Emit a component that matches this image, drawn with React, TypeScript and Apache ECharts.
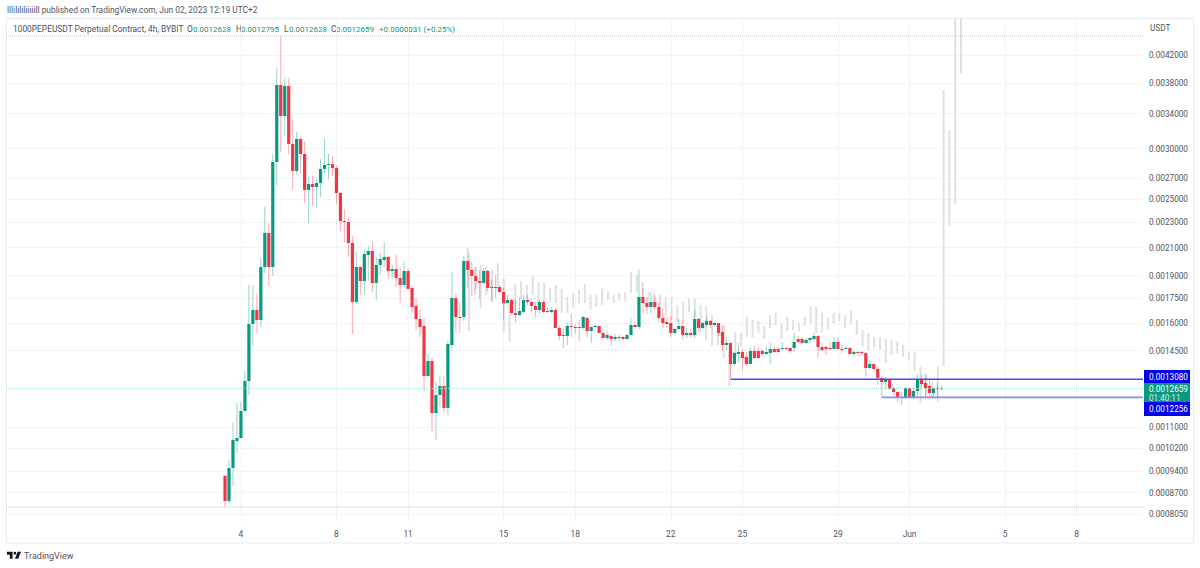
// App.tsx
import React, { useEffect, useRef } from "react";
import * as echarts from "echarts";

// 4h candles, one row of ten per line
const opens = [
  0.0009239, 0.0008444, 0.0009508, 0.0010477, 0.0010590, 0.0011671, 0.0013000, 0.0015958, 0.0016783, 0.0016190,
  0.0019590, 0.0022140, 0.0019590, 0.0028582, 0.0037704, 0.0033727, 0.0037568, 0.0030497, 0.0027672, 0.0031048,
  0.0029416, 0.0025843, 0.0026408, 0.0026126, 0.0026503, 0.0027871, 0.0028275, 0.0028377, 0.0027971, 0.0025566,
  0.0023117, 0.0023034, 0.0021358, 0.0017274, 0.0019590, 0.0018628, 0.0020456, 0.0020751, 0.0018494, 0.0019732,
  0.0020090, 0.0020310, 0.0019310, 0.0019450, 0.0018830, 0.0018362, 0.0019310, 0.0018165, 0.0017027, 0.0016248,
  0.0015844, 0.0013236, 0.0013970, 0.0011587, 0.0012361, 0.0012769, 0.0011798, 0.0014797, 0.0017524, 0.0016366,
  0.0016366, 0.0020018, 0.0019380, 0.0018966, 0.0018628, 0.0018494, 0.0019310, 0.0018230, 0.0018165, 0.0018230,
  0.0017905, 0.0017212, 0.0017398, 0.0016603, 0.0016484, 0.0016663, 0.0017398, 0.0017274, 0.0017027, 0.0016783,
  0.0017274, 0.0016663, 0.0016663, 0.0016783, 0.0015730, 0.0015340, 0.0015285, 0.0015844, 0.0015760, 0.0015787,
  0.0015730, 0.0016307, 0.0015562, 0.0015787, 0.0015844, 0.0015450, 0.0015175, 0.0015285, 0.0015120, 0.0015175,
  0.0015230, 0.0015120, 0.0015340, 0.0015901, 0.0015787, 0.0017587, 0.0017212, 0.0016966, 0.0017274, 0.0016966,
  0.0016307, 0.0016074, 0.0016016, 0.0015450, 0.0015674, 0.0015844, 0.0015340, 0.0015450, 0.0015340, 0.0016248,
  0.0015730, 0.0015901, 0.0016132, 0.0015901, 0.0016016, 0.0015506, 0.0014797, 0.0014904, 0.0013820, 0.0014326,
  0.0014430, 0.0014173, 0.0013820, 0.0014482, 0.0014482, 0.0014482, 0.0014326, 0.0014378, 0.0014586, 0.0014586,
  0.0014586, 0.0014638, 0.0014638, 0.0014638, 0.0015120, 0.0015120, 0.0014904, 0.0015066, 0.0015120, 0.0015285,
  0.0014691, 0.0014691, 0.0014638, 0.0014586, 0.0014958, 0.0014586, 0.0014586, 0.0014638, 0.0014326, 0.0014430,
  0.0014430, 0.0014378, 0.0013623, 0.0013820, 0.0013574, 0.0013141, 0.0012953, 0.0013094, 0.0012677, 0.0012496,
  0.0012273, 0.0012229, 0.0012677, 0.0012273, 0.0012541, 0.0013047, 0.0012907, 0.0012769, 0.0012451, 0.0012677,
  0.0012628,
];
const closes = [
  0.0008444, 0.0009508, 0.0010515, 0.0010590, 0.0011671, 0.0013000, 0.0015958, 0.0016783, 0.0016190, 0.0019590,
  0.0022140, 0.0019590, 0.0028582, 0.0037704, 0.0033727, 0.0037568, 0.0030497, 0.0027672, 0.0031048, 0.0029416,
  0.0025843, 0.0026408, 0.0026126, 0.0026503, 0.0027871, 0.0028275, 0.0028377, 0.0027971, 0.0025566, 0.0023117,
  0.0023034, 0.0021358, 0.0017274, 0.0019590, 0.0018628, 0.0020529, 0.0020751, 0.0018494, 0.0019732, 0.0020164,
  0.0020310, 0.0019310, 0.0019450, 0.0018830, 0.0018362, 0.0019310, 0.0018100, 0.0016966, 0.0016248, 0.0015787,
  0.0013236, 0.0013970, 0.0011587, 0.0012361, 0.0012769, 0.0011798, 0.0014850, 0.0017524, 0.0016366, 0.0016307,
  0.0020018, 0.0019380, 0.0018966, 0.0018628, 0.0018494, 0.0019310, 0.0018165, 0.0018165, 0.0018230, 0.0017905,
  0.0017212, 0.0017398, 0.0016603, 0.0016484, 0.0016723, 0.0017398, 0.0017274, 0.0017027, 0.0016783, 0.0017274,
  0.0016663, 0.0016723, 0.0016783, 0.0015730, 0.0015285, 0.0015285, 0.0015844, 0.0015787, 0.0015787, 0.0015730,
  0.0016366, 0.0015562, 0.0015787, 0.0015844, 0.0015450, 0.0015175, 0.0015340, 0.0015120, 0.0015230, 0.0015230,
  0.0015120, 0.0015340, 0.0015901, 0.0015787, 0.0017587, 0.0017212, 0.0016966, 0.0017274, 0.0016966, 0.0016307,
  0.0016016, 0.0015958, 0.0015450, 0.0015674, 0.0015844, 0.0015340, 0.0015450, 0.0015340, 0.0016248, 0.0015730,
  0.0016016, 0.0016132, 0.0015901, 0.0016016, 0.0015450, 0.0014797, 0.0014904, 0.0013820, 0.0014378, 0.0014430,
  0.0014122, 0.0013820, 0.0014482, 0.0014122, 0.0014122, 0.0014326, 0.0014430, 0.0014586, 0.0014430, 0.0014430,
  0.0014638, 0.0014586, 0.0014482, 0.0014958, 0.0014958, 0.0014904, 0.0015066, 0.0015175, 0.0015285, 0.0014691,
  0.0014534, 0.0014586, 0.0014586, 0.0014958, 0.0014586, 0.0014560, 0.0014638, 0.0014326, 0.0014430, 0.0014378,
  0.0014378, 0.0013623, 0.0013820, 0.0013574, 0.0013141, 0.0012953, 0.0013094, 0.0012632, 0.0012496, 0.0012273,
  0.0012229, 0.0012677, 0.0012273, 0.0012541, 0.0013094, 0.0012861, 0.0012677, 0.0012451, 0.0012677, 0.0012632,
  0.0012659,
];
const highs = [
  0.0009272, 0.0009785, 0.0011178, 0.0012012, 0.0012055, 0.0013476, 0.0018362, 0.0018362, 0.0017777, 0.0020310,
  0.0024312, 0.0022951, 0.0029416, 0.0040080, 0.0044971, 0.0038665, 0.0038665, 0.0033243, 0.0031840, 0.0031272,
  0.0030826, 0.0027083, 0.0027180, 0.0026887, 0.0028892, 0.0031160, 0.0029416, 0.0029205, 0.0028174, 0.0025658,
  0.0024138, 0.0023366, 0.0021903, 0.0020677, 0.0019661, 0.0020826, 0.0021130, 0.0021512, 0.0020310, 0.0020603,
  0.0021435, 0.0020383, 0.0019732, 0.0020456, 0.0019520, 0.0019946, 0.0019520, 0.0018296, 0.0017524, 0.0016783,
  0.0016307, 0.0014326, 0.0014122, 0.0012953, 0.0013284, 0.0013236, 0.0015012, 0.0019241, 0.0017777, 0.0017274,
  0.0020383, 0.0020977, 0.0019946, 0.0019590, 0.0019380, 0.0019520, 0.0019380, 0.0018695, 0.0019034, 0.0018362,
  0.0018165, 0.0017713, 0.0017524, 0.0017398, 0.0017524, 0.0017713, 0.0017713, 0.0017398, 0.0017274, 0.0017398,
  0.0017398, 0.0016966, 0.0016966, 0.0016905, 0.0015844, 0.0015787, 0.0016016, 0.0016543, 0.0015958, 0.0016190,
  0.0016425, 0.0016366, 0.0015844, 0.0015958, 0.0015844, 0.0015506, 0.0015562, 0.0015395, 0.0015395, 0.0015340,
  0.0015285, 0.0015395, 0.0016307, 0.0016074, 0.0019450, 0.0018165, 0.0017587, 0.0017905, 0.0017650, 0.0017274,
  0.0016905, 0.0016366, 0.0016425, 0.0015730, 0.0016248, 0.0016190, 0.0015730, 0.0015674, 0.0016783, 0.0016307,
  0.0016074, 0.0016366, 0.0016190, 0.0016074, 0.0016016, 0.0015901, 0.0015230, 0.0014958, 0.0014430, 0.0014904,
  0.0014586, 0.0014430, 0.0014691, 0.0014744, 0.0014691, 0.0014586, 0.0014744, 0.0014904, 0.0014691, 0.0014691,
  0.0014958, 0.0014691, 0.0014691, 0.0015450, 0.0015285, 0.0015230, 0.0015175, 0.0015230, 0.0015506, 0.0015340,
  0.0014904, 0.0014744, 0.0014958, 0.0015230, 0.0015230, 0.0014797, 0.0014744, 0.0014691, 0.0014534, 0.0014482,
  0.0014482, 0.0014430, 0.0014020, 0.0013820, 0.0013672, 0.0013236, 0.0013188, 0.0013141, 0.0012723, 0.0012541,
  0.0012496, 0.0012723, 0.0012677, 0.0012677, 0.0013332, 0.0013284, 0.0013284, 0.0013047, 0.0012677, 0.0012907,
  0.0012795,
];
const lows = [
  0.0008264, 0.0008354, 0.0008912, 0.0010035, 0.0011299, 0.0012361, 0.0012361, 0.0014744, 0.0015450, 0.0015787,
  0.0019172, 0.0018296, 0.0018966, 0.0026220, 0.0029630, 0.0031385, 0.0029416, 0.0025936, 0.0027376, 0.0027474,
  0.0024665, 0.0022951, 0.0024400, 0.0024225, 0.0025200, 0.0027474, 0.0026887, 0.0027180, 0.0024577, 0.0022300,
  0.0021435, 0.0020310, 0.0015395, 0.0017150, 0.0017713, 0.0017713, 0.0018628, 0.0017905, 0.0017398, 0.0019034,
  0.0019590, 0.0018762, 0.0018830, 0.0018230, 0.0017212, 0.0018230, 0.0018100, 0.0016603, 0.0015618, 0.0015230,
  0.0012541, 0.0013188, 0.0010861, 0.0010515, 0.0011840, 0.0011587, 0.0011503, 0.0014534, 0.0015450, 0.0015450,
  0.0016132, 0.0018165, 0.0017650, 0.0018035, 0.0017461, 0.0018428, 0.0017970, 0.0017336, 0.0017524, 0.0017841,
  0.0016190, 0.0017212, 0.0016484, 0.0016074, 0.0016425, 0.0016603, 0.0017088, 0.0016663, 0.0016366, 0.0016543,
  0.0016603, 0.0016603, 0.0016603, 0.0015730, 0.0015066, 0.0014638, 0.0014797, 0.0015230, 0.0015395, 0.0015012,
  0.0015674, 0.0015230, 0.0014904, 0.0015730, 0.0015450, 0.0015120, 0.0015066, 0.0014744, 0.0015012, 0.0015012,
  0.0015066, 0.0015066, 0.0015285, 0.0015674, 0.0015674, 0.0016603, 0.0016543, 0.0016603, 0.0016783, 0.0016074,
  0.0015730, 0.0015730, 0.0015230, 0.0015395, 0.0015618, 0.0015120, 0.0015175, 0.0015175, 0.0015175, 0.0015562,
  0.0015674, 0.0015787, 0.0015730, 0.0015787, 0.0015285, 0.0014482, 0.0014534, 0.0013141, 0.0013770, 0.0013920,
  0.0013525, 0.0013721, 0.0013820, 0.0014071, 0.0014071, 0.0014224, 0.0014275, 0.0013820, 0.0014378, 0.0014378,
  0.0014482, 0.0014534, 0.0014378, 0.0014430, 0.0014904, 0.0014850, 0.0014850, 0.0014904, 0.0015012, 0.0014122,
  0.0014482, 0.0014275, 0.0014534, 0.0014586, 0.0014534, 0.0014378, 0.0014586, 0.0014275, 0.0014224, 0.0014224,
  0.0014275, 0.0013188, 0.0013574, 0.0013525, 0.0012815, 0.0012273, 0.0012632, 0.0012586, 0.0012361, 0.0012055,
  0.0011926, 0.0012185, 0.0012229, 0.0012185, 0.0012273, 0.0012677, 0.0012273, 0.0012229, 0.0012273, 0.0012273,
  0.0012628,
];

// the grey projected bars
const ghostHighs = [
  0.0020603, 0.0019590, 0.0019732, 0.0019590, 0.0019380, 0.0019874, 0.0018830, 0.0017212, 0.0018428, 0.0018628,
  0.0018362, 0.0018966, 0.0018561, 0.0018494, 0.0018165, 0.0018362, 0.0018100, 0.0017587, 0.0017841, 0.0018035,
  0.0018428, 0.0017713, 0.0017713, 0.0018165, 0.0017905, 0.0017713, 0.0017841, 0.0017905, 0.0019241, 0.0019034,
  0.0018561, 0.0017905, 0.0017841, 0.0017713, 0.0017587, 0.0017587, 0.0017088, 0.0017274, 0.0017461, 0.0017524,
  0.0017088, 0.0017027, 0.0016484, 0.0016016, 0.0015901, 0.0014430, 0.0015506, 0.0015450, 0.0016366, 0.0016190,
  0.0016132, 0.0015844, 0.0016484, 0.0016603, 0.0016016, 0.0016366, 0.0016190, 0.0016016, 0.0016366, 0.0017027,
  0.0016966, 0.0016603, 0.0016307, 0.0016603, 0.0016603, 0.0016484, 0.0016783, 0.0016190, 0.0015618, 0.0015450,
  0.0015230, 0.0015230, 0.0015120, 0.0015066, 0.0015012, 0.0014797, 0.0014430, 0.0014430, 0.0013672, 0.0013332,
  0.0012953, 0.0013721, 0.0037032, 0.0032069, 0.0050000, 0.0050000,
];
const ghostLows = [
  0.0015562, 0.0017713, 0.0016905, 0.0017713, 0.0017274, 0.0017970, 0.0015506, 0.0014958, 0.0016783, 0.0017398,
  0.0017212, 0.0017713, 0.0017274, 0.0017212, 0.0017212, 0.0017212, 0.0016603, 0.0016603, 0.0016905, 0.0017212,
  0.0017212, 0.0016783, 0.0016966, 0.0017088, 0.0017398, 0.0017212, 0.0017398, 0.0017274, 0.0017841, 0.0017905,
  0.0017587, 0.0017212, 0.0016905, 0.0016484, 0.0016484, 0.0016190, 0.0016074, 0.0016190, 0.0016663, 0.0016307,
  0.0015506, 0.0015066, 0.0014744, 0.0014797, 0.0014122, 0.0012769, 0.0014378, 0.0014691, 0.0015230, 0.0015230,
  0.0015450, 0.0015120, 0.0015730, 0.0015901, 0.0015120, 0.0015562, 0.0015618, 0.0015562, 0.0015844, 0.0016016,
  0.0015450, 0.0015506, 0.0015674, 0.0016016, 0.0016132, 0.0015730, 0.0015901, 0.0015340, 0.0014691, 0.0014534,
  0.0014691, 0.0014534, 0.0013870, 0.0014275, 0.0014326, 0.0014173, 0.0014020, 0.0013476, 0.0012012, 0.0012229,
  0.0012273, 0.0012055, 0.0013721, 0.0022705, 0.0024577, 0.0039366,
];
const ghostStart = 61.3; // in candles
const ghostStep = 1.4544;

const dayTicks = [4, 28, 46, 70, 88, 112, 130, 154, 172, 196, 214];
const dayLabels = ["4", "8", "11", "15", "18", "22", "25", "29", "Jun", "5", "8"];
const priceTicks = [
  0.0042, 0.0038, 0.0034, 0.003, 0.0027, 0.0025, 0.0023, 0.0021, 0.0019, 0.00175,
  0.0016, 0.00145, 0.0011, 0.00102, 0.00094, 0.00087, 0.000805,
];

const sessionHigh = 0.0044971;
const sessionLow = 0.000826;
const lastPrice = 0.0012659;
const upperLevel = 0.001308;
const upperLevelFrom = 127;
const lowerLevel = 0.0012256;
const lowerLevelFrom = 165;

const GREEN = "#089981";
const RED = "#f23645";
const BLUE = "#0000ee";
const xMin = -55.03;
const xMax = 230.65;

// arc flags written out, zrender's path parser does not split them when they are glued together
const logoPath =
  "M14 6H2v6h6v9h6V6zm12 15h-7l6-15h7l-6 15zm-7-9a3 3 0 1 0 0-6 3 3 0 0 0 0 6z";
echarts.graphic.registerShape("tvLogo", echarts.graphic.extendPath(logoPath, {}));

const FONT = "Roboto";

const headerText = (text: string, x: number, fill: string, size = 8.4) => ({
  type: "text",
  x,
  y: 29,
  style: { text, fill, font: `${size}px ${FONT}`, textVerticalAlign: "middle" },
});

const priceTag = (y: number, h: number, fill: string) => ({
  type: "rect",
  shape: { x: 1144, y, width: 46, height: h },
  style: { fill },
});

const tagText = (text: string, y: number, fill = "#ffffff") => ({
  type: "text",
  x: 1149,
  y,
  style: { text, fill, font: `8.2px ${FONT}`, textVerticalAlign: "middle" },
});

const App: React.FC = () => {
  const chartRef = useRef<HTMLDivElement>(null);

  useEffect(() => {
    if (!chartRef.current) return;
    const chart = echarts.init(chartRef.current, undefined, { renderer: "svg" });

    const candles = opens.map((o, i) => [i, o, closes[i], lows[i], highs[i]]);
    const ghosts = ghostHighs.map((h, i) => [ghostStart + i * ghostStep, ghostLows[i], h]);

    const flatLine = (price: number, from: number, color: string, width: number, type: string) => ({
      type: "line",
      data: [
        [from, price],
        [xMax, price],
      ],
      showSymbol: false,
      silent: true,
      lineStyle: { color, width, type },
      z: 5,
    });

    chart.setOption({
      animation: false,
      backgroundColor: "#ffffff",
      grid: { left: 6, top: 18, right: 57, bottom: 46 },
      xAxis: {
        type: "value",
        min: xMin,
        max: xMax,
        axisLine: { show: false },
        axisTick: { show: false, customValues: dayTicks },
        axisLabel: {
          customValues: dayTicks,
          formatter: (v: number) => dayLabels[dayTicks.indexOf(v)] ?? "",
          color: "#50535e",
          fontFamily: FONT,
          fontSize: 8.4,
          margin: 8,
        },
        splitLine: { show: true, lineStyle: { color: "#f3f4f6", width: 1 } },
      },
      yAxis: {
        type: "log",
        logBase: 10,
        min: 0.0007828,
        max: 0.004798,
        position: "right",
        axisLine: { show: false },
        axisTick: { show: false, customValues: priceTicks },
        axisLabel: {
          customValues: priceTicks,
          formatter: (v: number) => v.toFixed(7),
          color: "#50535e",
          fontFamily: FONT,
          fontSize: 8.2,
          margin: 6,
          showMinLabel: true,
          showMaxLabel: true,
        },
        splitLine: { show: true, lineStyle: { color: "#f3f4f6", width: 1 } },
        minorTick: { show: false },
      },
      series: [
        {
          type: "custom",
          clip: true,
          silent: true,
          data: ghosts,
          encode: { x: 0, y: [1, 2] },
          renderItem: (_: any, api: any) => {
            const top = api.coord([api.value(0), api.value(2)]);
            const bottom = api.coord([api.value(0), api.value(1)]);
            return {
              type: "rect",
              shape: { x: top[0] - 1, y: top[1], width: 2, height: bottom[1] - top[1] },
              style: { fill: "#e0e0e0" },
            };
          },
          z: 2,
        },
        {
          type: "custom",
          silent: true,
          data: candles,
          encode: { x: 0, y: [1, 2, 3, 4] },
          renderItem: (_: any, api: any) => {
            const x = api.value(0);
            const open = api.coord([x, api.value(1)]);
            const close = api.coord([x, api.value(2)]);
            const low = api.coord([x, api.value(3)]);
            const high = api.coord([x, api.value(4)]);
            const color = api.value(2) >= api.value(1) ? GREEN : RED;
            const bodyTop = Math.min(open[1], close[1]);
            const bodyHeight = Math.max(Math.abs(open[1] - close[1]), 1);
            return {
              type: "group",
              children: [
                {
                  type: "rect",
                  shape: { x: open[0] - 0.5, y: high[1], width: 1, height: low[1] - high[1] },
                  style: { fill: color, opacity: 0.42 },
                },
                {
                  type: "rect",
                  shape: { x: open[0] - 1.6, y: bodyTop, width: 3.2, height: bodyHeight },
                  style: { fill: color },
                },
              ],
            };
          },
          z: 3,
        },
        flatLine(sessionHigh, xMin, "#c4c6cc", 1, "dotted"),
        flatLine(sessionLow, xMin, "#c4c6cc", 1, "dotted"),
        flatLine(lastPrice, xMin, "#a3dcd0", 1, "dotted"),
        flatLine(upperLevel, upperLevelFrom, "#4646f5", 1.4, "solid"),
        flatLine(lowerLevel, lowerLevelFrom, "#8a8af4", 1.8, "solid"),
      ],
      graphic: [
        {
          type: "rect",
          shape: { x: 6.5, y: 18.5, width: 1187, height: 524.5 },
          style: { fill: "none", stroke: "#e9ecf2", lineWidth: 1 },
          silent: true,
        },
        {
          type: "text",
          x: 7,
          y: 10,
          style: {
            text: "lllilililiiiiill published on TradingView.com, Jun 02, 2023 12:19 UTC+2",
            fill: "#50535e",
            font: `8.4px ${FONT}`,
            textVerticalAlign: "middle",
          },
        },
        headerText("1000PEPEUSDT Perpetual Contract, 4h, BYBIT", 13, "#50535e"),
        headerText("O", 187, "#50535e"),
        headerText("0.0012628", 193, GREEN, 8),
        headerText("H", 236, "#50535e"),
        headerText("0.0012795", 241, GREEN, 8),
        headerText("L", 284, "#50535e"),
        headerText("0.0012628", 289, GREEN, 8),
        headerText("C", 331, "#50535e"),
        headerText("0.0012659", 336, GREEN, 8),
        headerText("+0.0000031 (+0.25%)", 379, GREEN, 8),
        {
          type: "text",
          x: 1150,
          y: 28,
          style: { text: "USDT", fill: "#50535e", font: `8.2px ${FONT}`, textVerticalAlign: "middle" },
        },
        priceTag(370, 13, BLUE),
        priceTag(383, 19, GREEN),
        priceTag(402, 14, BLUE),
        tagText("0.0013080", 376.5),
        tagText("0.0012659", 389),
        tagText("01:40:11", 397.5, "#cfeee7"),
        tagText("0.0012256", 409),
        {
          type: "tvLogo",
          x: 6,
          y: 549,
          scaleX: 0.47,
          scaleY: 0.47,
          style: { fill: "#131722" },
        },
        {
          type: "text",
          x: 24,
          y: 556,
          style: { text: "TradingView", fill: "#50535e", font: `9px ${FONT}`, textVerticalAlign: "middle" },
        },
      ],
    });

    return () => {
      chart.dispose();
    };
  }, []);

  return (
    <div
      ref={chartRef}
      style={{ position: "absolute", left: 0, top: 0, width: 1200, height: 568 }}
    />
  );
};

export default App;
